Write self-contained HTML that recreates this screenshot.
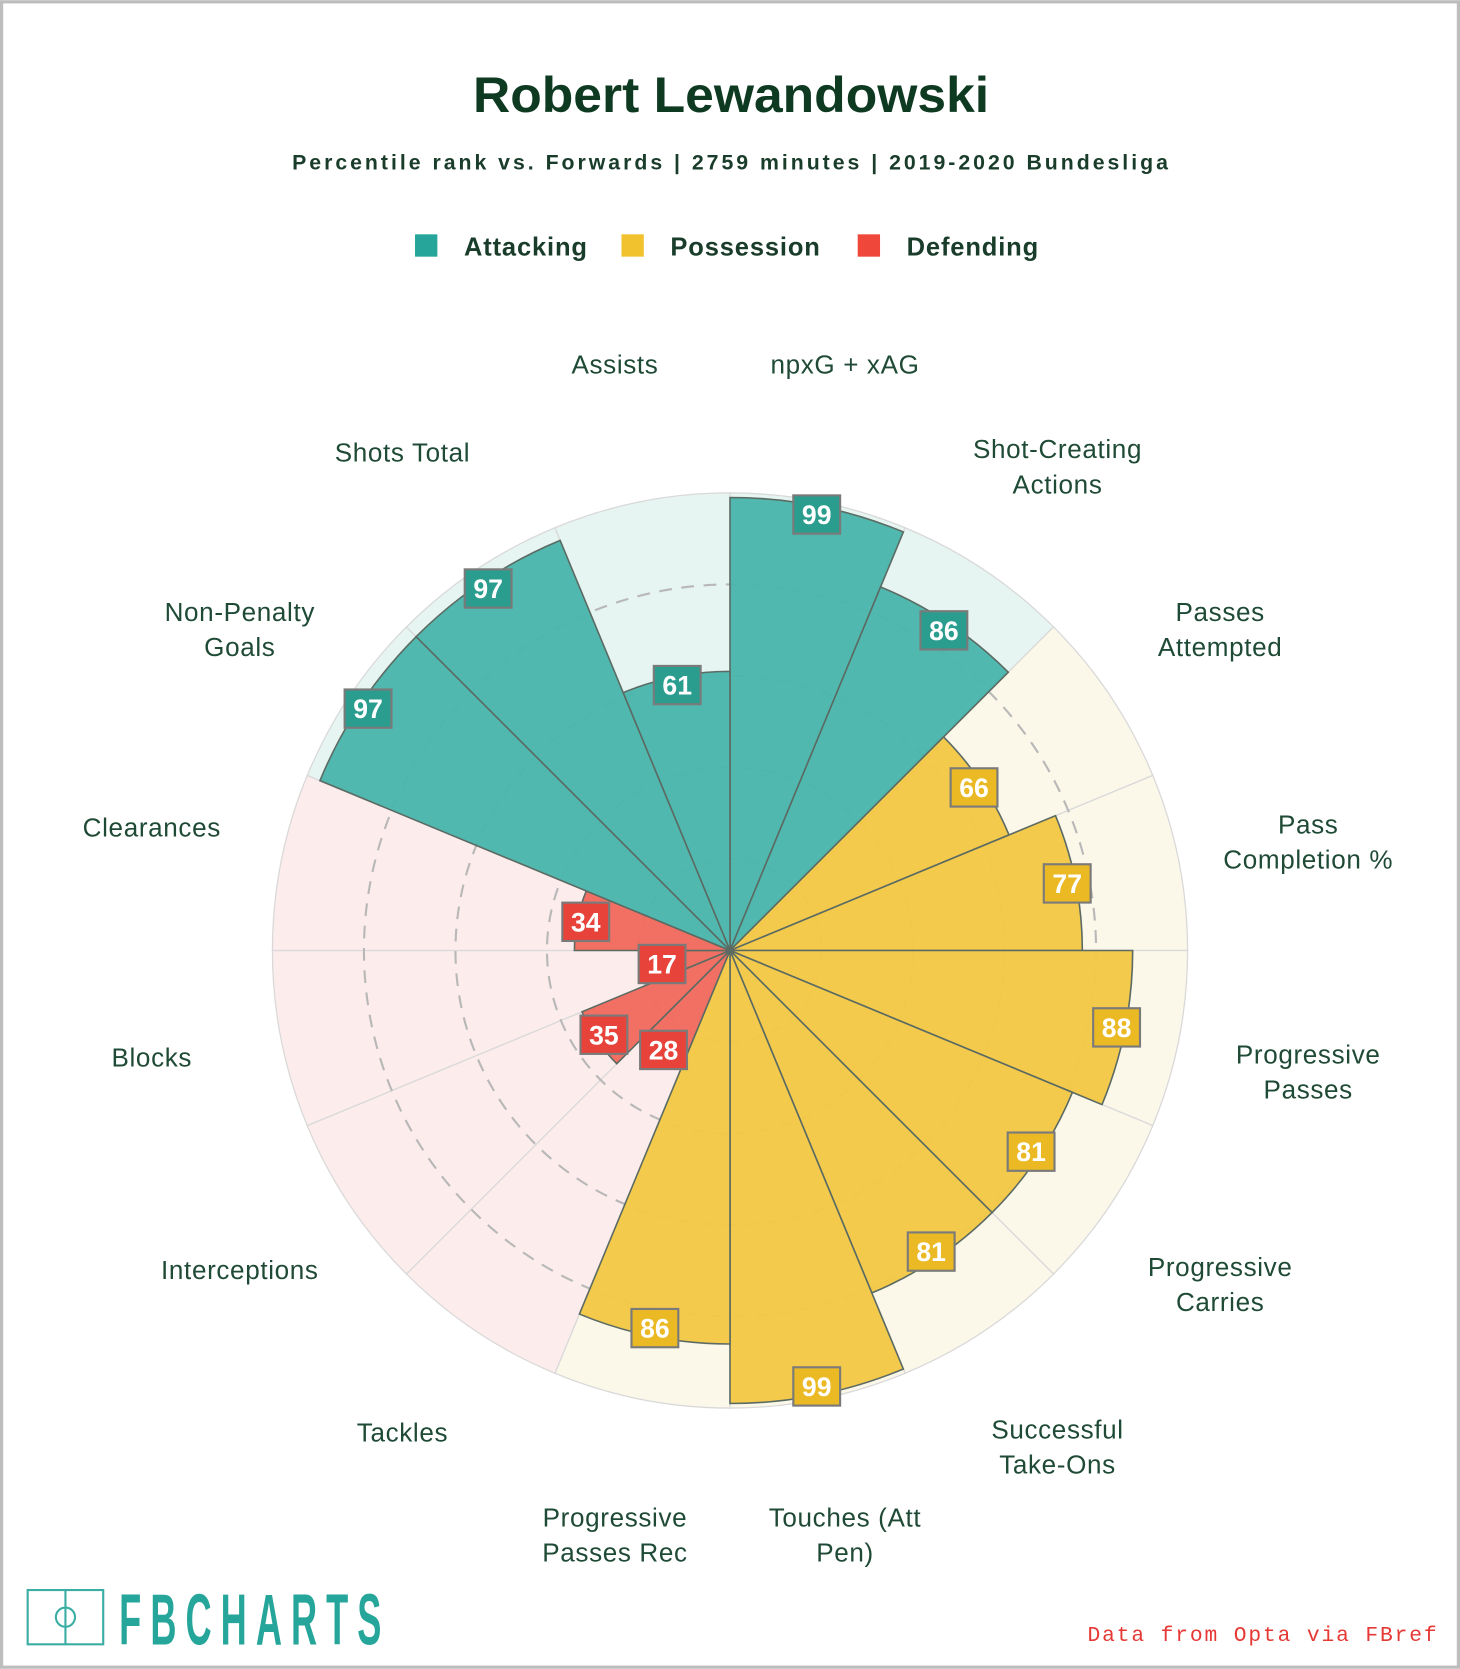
<!DOCTYPE html>
<html><head><meta charset="utf-8"><style>
html,body{margin:0;padding:0;background:#fff;}
svg{display:block;}
</style></head><body>
<svg width="1460" height="1669" viewBox="0 0 1372 1568" xmlns="http://www.w3.org/2000/svg" font-family="'Liberation Sans', sans-serif">
<rect x="1.5" y="1.5" width="1369" height="1565" fill="#fff" stroke="#bdbdbd" stroke-width="3"/>
<text x="687" y="105" text-anchor="middle" font-size="47" font-weight="bold" fill="#0f3a22" textLength="485" lengthAdjust="spacingAndGlyphs">Robert Lewandowski</text>
<text x="686" y="159" text-anchor="middle" font-size="20" font-weight="bold" fill="#1a3d2b" textLength="823" lengthAdjust="spacing">Percentile rank vs. Forwards | 2759 minutes | 2019-2020 Bundesliga</text>
<g font-size="24" font-weight="bold" fill="#1a3d2b" letter-spacing="0.8">
 <rect x="390" y="220" width="21" height="21" fill="#26a69a"/>
 <text x="436" y="240">Attacking</text>
 <rect x="584" y="220" width="21" height="21" fill="#f2c12e"/>
 <text x="630" y="240">Possession</text>
 <rect x="806" y="220" width="21" height="21" fill="#ef473a"/>
 <text x="852" y="240">Defending</text>
</g>
<g id="polar"></g>
<g fill="none" stroke="#3aaea3" stroke-width="2">
 <rect x="26" y="1494" width="71" height="51"/>
 <line x1="61.5" y1="1494" x2="61.5" y2="1545"/>
 <circle cx="61.5" cy="1519.5" r="9"/>
</g>
<text transform="translate(112,1545) scale(0.5,1)" x="0" y="0" font-size="68" font-weight="bold" fill="#26a69a" letter-spacing="17">FBCHARTS</text>
<text x="1350" y="1542" text-anchor="end" font-family="'Liberation Mono',monospace" font-size="20" fill="#e53935" textLength="328" lengthAdjust="spacing">Data from Opta via FBref</text>
</svg>
<script>
const categories = ["npxG + xAG","Shot-Creating Actions","Passes Attempted","Pass Completion %","Progressive Passes","Progressive Carries","Successful Take-Ons","Touches (Att Pen)","Progressive Passes Rec","Tackles","Interceptions","Blocks","Clearances","Non-Penalty Goals","Shots Total","Assists"];
const labelLines = [["npxG + xAG"],["Shot-Creating","Actions"],["Passes","Attempted"],["Pass","Completion %"],["Progressive","Passes"],["Progressive","Carries"],["Successful","Take-Ons"],["Touches (Att","Pen)"],["Progressive","Passes Rec"],["Tackles"],["Interceptions"],["Blocks"],["Clearances"],["Non-Penalty","Goals"],["Shots Total"],["Assists"]];
const values = [99,86,66,77,88,81,81,99,86,28,35,17,34,97,97,61];
const groups = ["att","att","pos","pos","pos","pos","pos","pos","pos","def","def","def","def","att","att","att"];
const gridTicks = [20,40,60,80];

const NS="http://www.w3.org/2000/svg";
const cx=686, cy=893, R=430, LR=554;
const fill={att:"#4bb6ac",pos:"#f3c846",def:"#f26b5e"};
const bg={att:"#e6f4f2",pos:"#fbf7e9",def:"#fdecec"};
const badge={att:"#2a9d8f",pos:"#eab923",def:"#e8433a"};
const n=categories.length, step=2*Math.PI/n;
function rScale(v){return v/100*R;}
function pt(r,a){return [cx+r*Math.sin(a), cy-r*Math.cos(a)];}
function wedge(r,a0,a1){const p0=pt(r,a0),p1=pt(r,a1);return `M${cx},${cy}L${p0[0]},${p0[1]}A${r},${r} 0 0 1 ${p1[0]},${p1[1]}Z`;}
const g=document.getElementById('polar');
function mk(tag,attrs,parent){const e=document.createElementNS(NS,tag);for(const k in attrs)e.setAttribute(k,attrs[k]);(parent||g).appendChild(e);return e;}
for(let i=0;i<n;i++){
 const e=mk('path',{d:wedge(R,i*step,(i+1)*step),fill:bg[groups[i]],stroke:"#d9d9d9","stroke-width":1.2});
 
 
}
gridTicks.forEach(t=>{
 const c=mk('circle',{cx:cx,cy:cy,r:rScale(t),fill:"none",stroke:"#b8b8b8","stroke-width":2,"stroke-dasharray":"12 9"});
 
 
});
for(let i=0;i<n;i++){
 const e=mk('path',{d:wedge(rScale(values[i]),i*step,(i+1)*step),fill:fill[groups[i]],stroke:"#5b6b63","stroke-width":1.5,"fill-opacity":0.97});
 
 
}
for(let i=0;i<n;i++){
 const a=(i+0.5)*step;
 const p=pt(Math.max(rScale(values[i])-8,40),a);
 const b=mk('rect',{x:p[0]-22,y:p[1]-18,width:44,height:36,fill:badge[groups[i]],stroke:"#7a7a7a","stroke-width":2});
 
 
 const t=mk('text',{x:p[0],y:p[1]+9,"text-anchor":"middle","font-size":25,"font-weight":"bold",fill:"#fff"});
 t.textContent=values[i];
 
 
 const lp=pt(LR,a), lines=labelLines[i];
 const lt=mk('text',{x:lp[0],y:lp[1]+1-(lines.length-1)*3,"text-anchor":"middle","font-size":24.5,"letter-spacing":0.6,fill:"#1f4a35"});
 
 
 lines.forEach((s,j)=>{const ts=mk('tspan',{x:lp[0],dy:j?33:0},lt);ts.textContent=s;});
}
</script>
</body></html>
